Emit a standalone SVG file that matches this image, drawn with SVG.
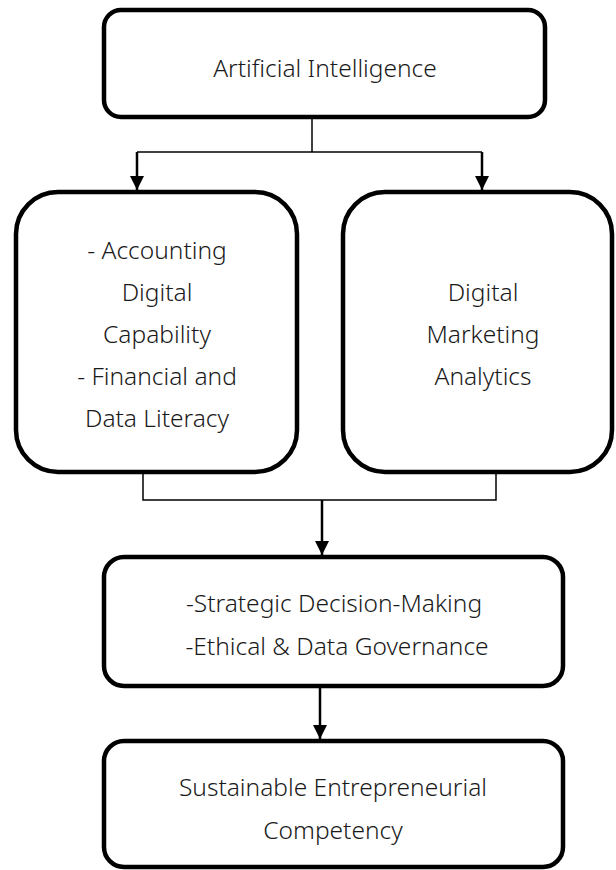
<svg xmlns="http://www.w3.org/2000/svg" width="616" height="870" viewBox="0 0 616 870">
<defs>
<style>
.box{fill:#fff;stroke:#000;stroke-width:4.5}
.t{font-family:"Noto Sans","Liberation Sans",sans-serif;font-size:24.5px;font-weight:300;fill:#1a1a1a;text-anchor:middle}
.c{fill:none;stroke:#000;stroke-width:1.5}
.a{fill:none;stroke:#000;stroke-width:2.5}
</style>
<marker id="ah" markerWidth="14" markerHeight="14" viewBox="0 0 14 14" refX="14" refY="7" orient="auto" markerUnits="userSpaceOnUse">
<path d="M0,0 L14,7 L0,14 Z" fill="#000"/>
</marker>
</defs>
<g id="connectors">
<path class="c" d="M312,118 V152"/>
<path class="c" d="M137,152 H482"/>
<path class="a" d="M137,152 V190" marker-end="url(#ah)"/>
<path class="a" d="M482,152 V190" marker-end="url(#ah)"/>
<path class="c" d="M143,472 V500 H496 V472"/>
<path class="a" d="M322,500 V555" marker-end="url(#ah)"/>
<path class="a" d="M320,686 V739" marker-end="url(#ah)"/>
</g>
<g id="n1">
<rect class="box" x="104" y="10" width="441" height="107" rx="17"/>
<text class="t" x="325" y="77">Artificial Intelligence</text>
</g>
<g id="n2">
<rect class="box" x="16" y="192" width="281" height="280" rx="42"/>
<text class="t" x="157" y="259">- Accounting</text>
<text class="t" x="157" y="301">Digital</text>
<text class="t" x="157" y="343">Capability</text>
<text class="t" x="157" y="385">- Financial and</text>
<text class="t" x="157" y="427">Data Literacy</text>
</g>
<g id="n3">
<rect class="box" x="343" y="192" width="269" height="280" rx="42"/>
<text class="t" x="483" y="301">Digital</text>
<text class="t" x="483" y="343">Marketing</text>
<text class="t" x="483" y="385">Analytics</text>
</g>
<g id="n4">
<rect class="box" x="104" y="557" width="459" height="129" rx="20"/>
<text class="t" x="334" y="612">-Strategic Decision-Making</text>
<text class="t" x="337" y="655">-Ethical &amp; Data Governance</text>
</g>
<g id="n5">
<rect class="box" x="104" y="741" width="459" height="126" rx="20"/>
<text class="t" x="333" y="796">Sustainable Entrepreneurial</text>
<text class="t" x="333" y="839">Competency</text>
</g>
</svg>
